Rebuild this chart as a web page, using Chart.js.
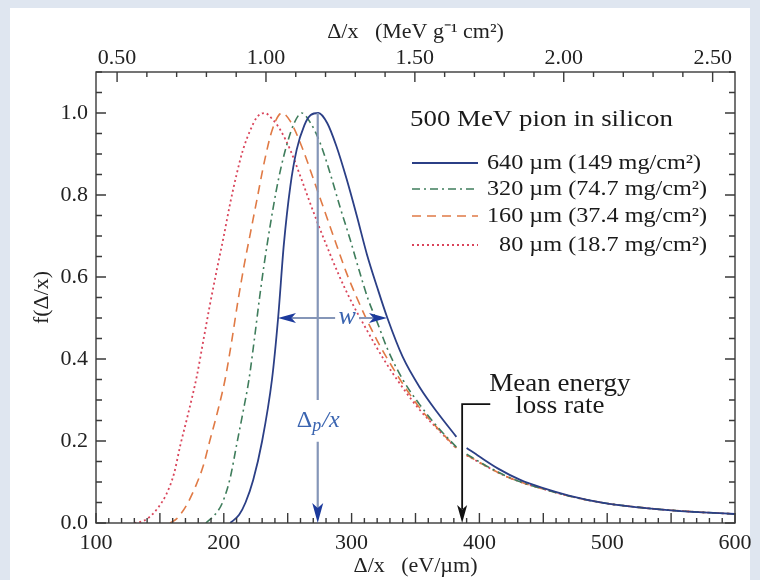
<!DOCTYPE html>
<html><head><meta charset="utf-8">
<script src="https://cdn.jsdelivr.net/npm/chart.js@4.4.1/dist/chart.umd.min.js"></script>
<style>
html,body{margin:0;padding:0;background:#dfe6f0;}
canvas{display:block;}
</style></head><body>
<canvas id="c" width="760" height="580"></canvas>
<script>
// ---- data ----
const legendTitle = '500 MeV pion in silicon';
const seriesNumbers = ['640', '320', '160', '80'];
const seriesRest = [' µm (149 mg/cm²)', ' µm (74.7 mg/cm²)', ' µm (37.4 mg/cm²)', ' µm (18.7 mg/cm²)'];
const xTickValues = [100, 200, 300, 400, 500, 600];
const topTickValues = [0.5, 1.0, 1.5, 2.0, 2.5];
const yTickValues = [0, 0.2, 0.4, 0.6, 0.8, 1.0];
const evPerMeVcm2g = 233; // silicon: 1 MeV g^-1 cm^2 = 233 eV/um

const x640 = [205, 212, 217, 223, 230, 237.7, 242.5, 247, 252, 257, 263, 268, 274, 281, 288, 296, 304, 312, 320, 328, 340, 353.5, 367, 382, 386, 390, 400, 415, 432, 450, 470, 497, 525, 550, 575, 600];
const f640 = [0, 0.02, 0.05, 0.105, 0.2, 0.35, 0.50, 0.68, 0.82, 0.91, 0.97, 0.995, 1.0, 0.975, 0.92, 0.84, 0.75, 0.655, 0.575, 0.50, 0.405, 0.33, 0.27, 0.21, null, 0.183, 0.162, 0.132, 0.105, 0.085, 0.067, 0.049, 0.038, 0.031, 0.026, 0.022];

const x320 = [186, 193, 199, 205, 210, 215, 219.7, 224, 228, 232, 236, 241, 245, 250, 255, 261, 268, 275, 283, 291, 299, 306, 313, 320, 328, 340, 353, 367, 382, 386, 390, 405, 420, 435, 450, 470, 497, 525, 550, 575, 600];
const f320 = [0, 0.02, 0.05, 0.11, 0.19, 0.27, 0.35, 0.45, 0.55, 0.64, 0.72, 0.81, 0.87, 0.93, 0.975, 1.0, 0.975, 0.93, 0.855, 0.77, 0.69, 0.615, 0.545, 0.49, 0.425, 0.35, 0.29, 0.235, 0.185, null, 0.168, 0.14, 0.116, 0.097, 0.083, 0.066, 0.049, 0.038, 0.031, 0.026, 0.022];

const x160 = [158, 163, 167, 172, 178, 184, 189, 195, 201, 206, 211, 216, 221, 226, 232, 238, 245.5, 252, 262, 270, 279, 288, 296, 304, 312, 320, 330, 341, 353, 367, 382, 386, 390, 405, 420, 435, 450, 470, 497, 525, 550, 575, 600];
const f160 = [0, 0.01, 0.025, 0.05, 0.09, 0.14, 0.2, 0.27, 0.35, 0.44, 0.54, 0.63, 0.71, 0.79, 0.885, 0.96, 1.0, 0.98, 0.91, 0.84, 0.76, 0.68, 0.61, 0.55, 0.495, 0.445, 0.39, 0.335, 0.282, 0.232, 0.183, null, 0.166, 0.139, 0.115, 0.097, 0.083, 0.066, 0.049, 0.038, 0.031, 0.026, 0.022];

const x80 = [130, 137, 142, 148.5, 155, 161, 166, 172, 179, 184, 189, 194.7, 200, 205, 210, 215, 221, 226, 232, 238, 244, 252, 260, 267, 273, 280, 290, 299, 312, 325, 340, 353, 367, 382, 386, 390, 405, 420, 435, 450, 470, 497, 525, 550, 575, 600];
const f80 = [0, 0.005, 0.015, 0.037, 0.07, 0.12, 0.19, 0.265, 0.36, 0.445, 0.53, 0.62, 0.70, 0.78, 0.85, 0.91, 0.96, 0.99, 1.0, 0.985, 0.96, 0.91, 0.845, 0.785, 0.735, 0.68, 0.605, 0.545, 0.47, 0.40, 0.33, 0.277, 0.23, 0.182, null, 0.165, 0.139, 0.115, 0.097, 0.083, 0.066, 0.049, 0.038, 0.031, 0.026, 0.022];

// annotation values (data units)
const deltaP = 273.5;          // most probable Δp/x of 640 µm curve
const deltaPLabelY = 0.25;
const wLevel = 0.5, wLeft = 242.4, wRight = 327.7, wTextX = 296.5;
const meanLoss = 386.5, meanTopY = 0.29, meanLabelX = 463, meanLabelY1 = 0.337, meanLabelY2 = 0.284;

const serif = '"Liberation Serif", "Times New Roman", serif';
const colors = ['#2b3f86', '#3f7d5c', '#e07a45', '#d9445a'];
const dashes = [[], [8, 4, 2, 4], [9, 6], [2, 3]];
const widths = [1.8, 1.6, 1.6, 1.8];

function pts(xs, ys) { return xs.map((v, i) => ({x: v, y: ys[i]})); }
const seriesX = [x640, x320, x160, x80];
const seriesY = [f640, f320, f160, f80];

const datasets = seriesX.map((xs, i) => ({
  label: seriesNumbers[i] + seriesRest[i],
  data: pts(xs, seriesY[i]),
  borderColor: colors[i],
  borderDash: dashes[i],
  borderWidth: widths[i],
  pointRadius: 0,
  cubicInterpolationMode: 'monotone',
  spanGaps: false,
  fill: false
}));

function sText(ctx, txt, x, y, sx, align) {
  ctx.save(); ctx.translate(x, y); ctx.scale(sx, 1);
  ctx.textAlign = align; ctx.fillText(txt, 0, 0); ctx.restore();
}

const bgPlugin = {
  id: 'bg',
  beforeDraw(c) {
    const ctx = c.ctx; ctx.save();
    ctx.fillStyle = '#dfe6f0'; ctx.fillRect(0, 0, c.width, c.height);
    ctx.fillStyle = '#ffffff'; ctx.fillRect(10, 8, 740, 572);
    ctx.restore();
  }
};

const framePlugin = {
  id: 'frame',
  afterDatasetsDraw(c) {
    const {ctx, chartArea: a, scales: {x, x2, y}} = c;
    ctx.save();
    ctx.strokeStyle = '#3a3a3a'; ctx.lineWidth = 1.4;
    ctx.strokeRect(a.left, a.top, a.right - a.left, a.bottom - a.top);
    ctx.beginPath();
    for (let v = 100; v <= 600; v += 10) {
      const px = x.getPixelForValue(v); const L = (v % 50 === 0) ? 10 : 5;
      ctx.moveTo(px, a.bottom); ctx.lineTo(px, a.bottom - L);
    }
    for (let k = 5; k <= 25; k++) {
      const px = x2.getPixelForValue(k / 10); const L = (k % 5 === 0) ? 10 : 5;
      ctx.moveTo(px, a.top); ctx.lineTo(px, a.top + L);
    }
    for (let k = 0; k <= 22; k++) {
      const py = y.getPixelForValue(k * 0.05); const L = (k % 4 === 0) ? 10 : 6;
      ctx.moveTo(a.left, py); ctx.lineTo(a.left + L, py);
      ctx.moveTo(a.right, py); ctx.lineTo(a.right - L, py);
    }
    ctx.stroke(); ctx.restore();
  }
};

function arrowHead(ctx, tx, ty, dx, dy, len, hw, color) {
  const bx = tx - dx * len, by = ty - dy * len;
  const nx = -dy, ny = dx;
  ctx.fillStyle = color;
  ctx.beginPath();
  ctx.moveTo(tx, ty);
  ctx.lineTo(bx + nx * hw, by + ny * hw);
  ctx.lineTo(bx + dx * len * 0.25, by + dy * len * 0.25);
  ctx.lineTo(bx - nx * hw, by - ny * hw);
  ctx.closePath(); ctx.fill();
}

const annoPlugin = {
  id: 'anno',
  afterDatasetsDraw(c) {
    const {ctx, scales: {x, y}} = c;
    ctx.save();
    const px = x.getPixelForValue(deltaP);
    const lineCol = '#8596b8', headCol = '#1c3a9c', txtCol = '#3a64b0';
    ctx.strokeStyle = lineCol; ctx.lineWidth = 2.2;
    ctx.beginPath();
    ctx.moveTo(px, y.getPixelForValue(1.0)); ctx.lineTo(px, y.getPixelForValue(0.30));
    ctx.moveTo(px, y.getPixelForValue(0.198)); ctx.lineTo(px, y.getPixelForValue(0) - 14);
    ctx.stroke();
    arrowHead(ctx, px, y.getPixelForValue(0), 0, 1, 20, 5.5, headCol);
    ctx.fillStyle = txtCol; ctx.textBaseline = 'middle';
    const ly = y.getPixelForValue(deltaPLabelY);
    ctx.font = '24px ' + serif;
    const wD = ctx.measureText('Δ').width;
    ctx.font = 'italic 18px ' + serif;
    const wp = ctx.measureText('p').width;
    ctx.font = 'italic 24px ' + serif;
    const wx = ctx.measureText('/x').width;
    const sx0 = px - (wD + wp + wx) / 2;
    ctx.textAlign = 'left';
    ctx.font = '24px ' + serif; ctx.fillText('Δ', sx0, ly);
    ctx.font = 'italic 18px ' + serif; ctx.fillText('p', sx0 + wD, ly + 6);
    ctx.font = 'italic 24px ' + serif; ctx.fillText('/x', sx0 + wD + wp + 1, ly);
    const wy = y.getPixelForValue(wLevel);
    const lx = x.getPixelForValue(wLeft), rx = x.getPixelForValue(wRight), tx = x.getPixelForValue(wTextX);
    ctx.strokeStyle = lineCol; ctx.lineWidth = 2.2;
    ctx.beginPath();
    ctx.moveTo(lx + 14, wy); ctx.lineTo(tx - 12, wy);
    ctx.moveTo(tx + 12, wy); ctx.lineTo(rx - 14, wy);
    ctx.stroke();
    arrowHead(ctx, lx, wy, -1, 0, 18, 5, headCol);
    arrowHead(ctx, rx, wy, 1, 0, 18, 5, headCol);
    ctx.fillStyle = txtCol; ctx.font = 'italic 26px ' + serif; ctx.textAlign = 'center';
    ctx.fillText('w', tx, wy - 1);
    const mx = x.getPixelForValue(meanLoss), my = y.getPixelForValue(meanTopY);
    ctx.strokeStyle = '#111'; ctx.lineWidth = 1.8;
    ctx.beginPath();
    ctx.moveTo(x.getPixelForValue(408.5), my); ctx.lineTo(mx, my); ctx.lineTo(mx, y.getPixelForValue(0) - 14);
    ctx.stroke();
    arrowHead(ctx, mx, y.getPixelForValue(0), 0, 1, 18, 5, '#111');
    ctx.fillStyle = '#1a1a1a'; ctx.font = '25px ' + serif;
    sText(ctx, 'Mean energy', x.getPixelForValue(meanLabelX), y.getPixelForValue(meanLabelY1), 1.08, 'center');
    sText(ctx, 'loss rate', x.getPixelForValue(meanLabelX), y.getPixelForValue(meanLabelY2), 1.08, 'center');
    ctx.restore();
  }
};

const legendPlugin = {
  id: 'customLegend',
  afterDatasetsDraw(c) {
    const {ctx, chartArea: a} = c;
    ctx.save();
    ctx.fillStyle = '#1a1a1a'; ctx.textBaseline = 'middle';
    ctx.font = '24px ' + serif;
    sText(ctx, legendTitle, a.right - 325, a.top + 48, 1.12, 'left');
    const rowsY = [91, 117, 144, 173];
    ctx.font = '22px ' + serif;
    const sx = 1.1;
    const numEnd = a.right - 248 + ctx.measureText('640').width * sx;
    c.data.datasets.forEach((ds, i) => {
      const yy = a.top + rowsY[i];
      ctx.strokeStyle = ds.borderColor; ctx.lineWidth = ds.borderWidth;
      ctx.setLineDash(ds.borderDash);
      ctx.beginPath(); ctx.moveTo(a.right - 323, yy); ctx.lineTo(a.right - 257, yy); ctx.stroke();
      ctx.setLineDash([]);
      sText(ctx, seriesNumbers[i], numEnd, yy, sx, 'right');
      sText(ctx, seriesRest[i], numEnd, yy, sx, 'left');
    });
    ctx.restore();
  }
};

const tickFont = {family: serif, size: 22};
new Chart(document.getElementById('c'), {
  type: 'line',
  data: {datasets},
  options: {
    responsive: false, animation: false, devicePixelRatio: 1,
    layout: {padding: {left: 10, top: 8, right: 25, bottom: 0}},
    plugins: {legend: {display: false}, tooltip: {enabled: false}},
    scales: {
      x: {
        type: 'linear', position: 'bottom', min: 100, max: 600,
        afterBuildTicks: s => { s.ticks = xTickValues.map(v => ({value: v})); },
        afterFit: s => { s.height = 57; },
        grid: {display: false, drawTicks: false}, border: {display: false},
        ticks: {font: tickFont, color: '#222', padding: 7, maxRotation: 0, callback: v => String(v)},
        title: {display: true, text: 'Δ/x   (eV/µm)', font: {family: serif, size: 22}, color: '#222', padding: {top: 0, bottom: 1}}
      },
      x2: {
        type: 'linear', position: 'top', min: 100 / evPerMeVcm2g, max: 600 / evPerMeVcm2g,
        afterBuildTicks: s => { s.ticks = topTickValues.map(v => ({value: v})); },
        afterFit: s => { s.height = 64; },
        grid: {display: false, drawTicks: false}, border: {display: false},
        ticks: {font: tickFont, color: '#222', padding: 1, maxRotation: 0, callback: v => v.toFixed(2)},
        title: {display: true, text: 'Δ/x   (MeV g⁻¹ cm²)', font: {family: serif, size: 22}, color: '#222', padding: {top: 11, bottom: 0}}
      },
      y: {
        type: 'linear', position: 'left', min: 0, max: 1.1,
        afterBuildTicks: s => { s.ticks = yTickValues.map(v => ({value: v})); },
        afterFit: s => { s.width = 86; },
        grid: {display: false, drawTicks: false}, border: {display: false},
        ticks: {font: tickFont, color: '#222', padding: 8, callback: v => v.toFixed(1)},
        title: {display: true, text: 'f(Δ/x)', font: {family: serif, size: 22}, color: '#222', padding: {top: 19, bottom: 0}}
      }
    }
  },
  plugins: [bgPlugin, framePlugin, annoPlugin, legendPlugin]
});
</script>
</body></html>
